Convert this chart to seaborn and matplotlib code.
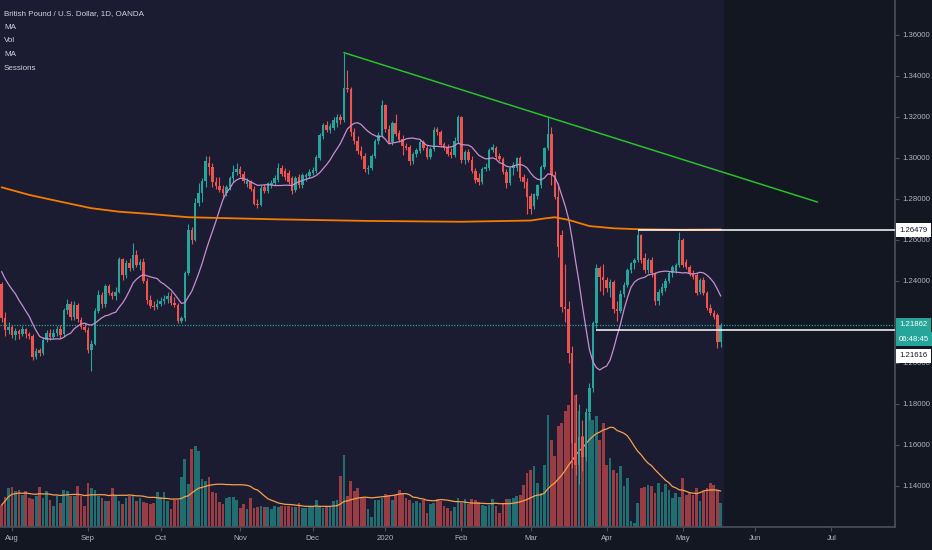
import numpy as np
import pandas as pd
import matplotlib
matplotlib.use("Agg")
import matplotlib.pyplot as plt
import seaborn as sns

# daily bars; the OANDA feed has no candle on Christmas and New Year's Day
first_day, last_day = "2019-07-29", "2020-05-18"
skipped_days = ["2019-12-25", "2020-01-01"]
future_end = "2020-07-31"

# OHLC in pips above 1.0000 (2220 -> 1.2220)
opens = [
    2385, 2220, 2160, 2175, 2135, 2155, 2140, 2165, 2140, 2130,
    2030, 2065, 2050, 2112, 2145, 2128, 2145, 2168, 2140, 2260,
    2290, 2225, 2285, 2210, 2178, 2160, 2063, 2095, 2255, 2330,
    2290, 2375, 2340, 2325, 2345, 2505, 2430, 2490, 2465, 2525,
    2480, 2495, 2400, 2305, 2280, 2275, 2290, 2300, 2310, 2325,
    2295, 2285, 2205, 2220, 2440, 2650, 2600, 2780, 2828, 2890,
    2975, 2955, 2885, 2865, 2850, 2828, 2858, 2900, 2933, 2945,
    2920, 2875, 2885, 2850, 2775, 2770, 2860, 2840, 2870, 2880,
    2895, 2950, 2935, 2925, 2900, 2844, 2905, 2868, 2905, 2910,
    2925, 2935, 3000, 3105, 3160, 3138, 3145, 3170, 3200, 3185,
    3340, 3335, 3128, 3085, 3035, 3010, 2945, 2950, 3010, 3085,
    3110, 3260, 3140, 3080, 3170, 3120, 3095, 3060, 3055, 2985,
    3020, 3035, 3080, 3050, 3005, 3045, 3140, 3125, 3068, 3055,
    3030, 3015, 3085, 3200, 2990, 3030, 2990, 2935, 2900, 2885,
    2945, 2950, 3040, 3050, 3010, 2995, 2930, 2880, 2950, 2950,
    3000, 2905, 2885, 2815, 2765, 2815, 2868, 2955, 3049, 3117,
    2917, 2812, 2624, 2273, 2265, 2047, 1610, 1500, 1640, 1540,
    1762, 1876, 2195, 2463, 2420, 2405, 2365, 2395, 2265, 2255,
    2335, 2380, 2454, 2486, 2502, 2624, 2510, 2454, 2502, 2437,
    2300, 2340, 2365, 2400, 2437, 2450, 2478, 2600, 2494, 2470,
    2440, 2429, 2345, 2405, 2340, 2267, 2242, 2234, 2104,
]
highs = [
    2395, 2250, 2200, 2185, 2170, 2165, 2180, 2170, 2150, 2140,
    2075, 2075, 2125, 2160, 2165, 2165, 2180, 2185, 2270, 2310,
    2300, 2300, 2295, 2225, 2195, 2175, 2110, 2270, 2355, 2345,
    2385, 2385, 2350, 2370, 2515, 2510, 2500, 2510, 2585, 2550,
    2505, 2510, 2415, 2330, 2300, 2310, 2320, 2330, 2345, 2345,
    2320, 2295, 2230, 2450, 2680, 2665, 2805, 2880, 2900, 3010,
    3012, 2975, 2905, 2905, 2870, 2870, 2910, 2965, 2975, 2960,
    2935, 2900, 2895, 2865, 2800, 2870, 2875, 2885, 2895, 2915,
    2975, 2965, 2950, 2940, 2910, 2910, 2920, 2925, 2925, 2945,
    2955, 3015, 3120, 3170, 3180, 3170, 3200, 3215, 3215, 3514,
    3430, 3345, 3145, 3105, 3060, 3025, 2965, 3020, 3095, 3125,
    3285, 3265, 3160, 3180, 3215, 3135, 3110, 3075, 3065, 3030,
    3050, 3090, 3090, 3065, 3055, 3150, 3152, 3135, 3080, 3070,
    3050, 3100, 3210, 3205, 3040, 3045, 3010, 2950, 2925, 2955,
    2975, 3050, 3070, 3060, 3025, 3005, 2945, 2960, 2980, 3005,
    3010, 2920, 2900, 2830, 2830, 2875, 2965, 3055, 3200, 3150,
    2935, 2880, 2650, 2485, 2300, 2085, 1850, 1800, 1720, 1780,
    1900, 2205, 2485, 2475, 2485, 2420, 2410, 2405, 2300, 2355,
    2395, 2465, 2495, 2510, 2648, 2630, 2535, 2510, 2515, 2445,
    2360, 2390, 2415, 2450, 2480, 2490, 2640, 2610, 2505, 2480,
    2455, 2440, 2415, 2420, 2350, 2290, 2260, 2245, 2195,
]
lows = [
    2200, 2130, 2140, 2120, 2110, 2115, 2130, 2120, 2115, 2015,
    2020, 2035, 2040, 2100, 2110, 2115, 2130, 2120, 2130, 2240,
    2210, 2210, 2200, 2165, 2150, 2050, 1960, 2090, 2245, 2270,
    2275, 2330, 2310, 2305, 2340, 2405, 2415, 2450, 2455, 2470,
    2455, 2390, 2290, 2270, 2260, 2265, 2280, 2290, 2295, 2285,
    2275, 2195, 2195, 2205, 2430, 2580, 2595, 2765, 2785, 2860,
    2915, 2860, 2850, 2835, 2810, 2815, 2845, 2885, 2915, 2905,
    2880, 2860, 2840, 2770, 2755, 2765, 2830, 2830, 2855, 2870,
    2885, 2910, 2895, 2875, 2825, 2835, 2855, 2855, 2890, 2900,
    2915, 2925, 2990, 3095, 3125, 3120, 3135, 3150, 3165, 3175,
    3320, 3105, 3070, 3020, 2995, 2930, 2920, 2940, 3000, 3070,
    3100, 3125, 3070, 3065, 3105, 3080, 3015, 3040, 2965, 2970,
    3005, 3025, 3040, 2995, 2995, 3035, 3110, 3055, 3040, 3010,
    3000, 3005, 3075, 2975, 2970, 2980, 2925, 2880, 2870, 2875,
    2935, 2940, 3030, 2995, 2985, 2920, 2855, 2870, 2915, 2935,
    2890, 2855, 2725, 2725, 2750, 2800, 2855, 2945, 3040, 2870,
    2800, 2515, 2250, 2200, 2000, 1490, 1455, 1410, 1475, 1520,
    1720, 1860, 2170, 2350, 2330, 2345, 2320, 2245, 2205, 2245,
    2320, 2370, 2440, 2460, 2495, 2490, 2440, 2440, 2420, 2285,
    2285, 2330, 2350, 2390, 2420, 2440, 2470, 2470, 2460, 2425,
    2410, 2330, 2335, 2330, 2260, 2235, 2215, 2075, 2080,
]
closes = [
    2220, 2160, 2175, 2135, 2155, 2140, 2165, 2140, 2130, 2030,
    2060, 2050, 2112, 2145, 2128, 2145, 2168, 2135, 2260, 2290,
    2225, 2285, 2215, 2178, 2160, 2063, 2095, 2255, 2330, 2290,
    2375, 2340, 2325, 2345, 2505, 2430, 2490, 2465, 2525, 2480,
    2495, 2400, 2305, 2280, 2275, 2290, 2300, 2310, 2325, 2295,
    2285, 2205, 2220, 2440, 2650, 2600, 2780, 2828, 2890, 2985,
    2955, 2885, 2865, 2845, 2828, 2858, 2900, 2933, 2945, 2920,
    2888, 2890, 2850, 2775, 2770, 2852, 2840, 2877, 2880, 2900,
    2950, 2920, 2905, 2885, 2838, 2900, 2868, 2915, 2917, 2933,
    2941, 3005, 3112, 3160, 3138, 3158, 3185, 3202, 3185, 3340,
    3335, 3128, 3085, 3035, 3010, 2945, 2950, 3010, 3085, 3110,
    3260, 3140, 3080, 3170, 3115, 3090, 3060, 3050, 2985, 3020,
    3040, 3080, 3050, 3005, 3045, 3135, 3125, 3065, 3050, 3020,
    3015, 3085, 3200, 2990, 3030, 2990, 2935, 2895, 2885, 2948,
    2955, 3040, 3055, 3005, 2995, 2930, 2880, 2950, 2965, 3000,
    2900, 2885, 2812, 2750, 2822, 2868, 2955, 3047, 3117, 2917,
    2812, 2566, 2273, 2265, 2047, 1610, 1500, 1640, 1540, 1762,
    1876, 2195, 2463, 2420, 2405, 2365, 2395, 2265, 2255, 2335,
    2380, 2454, 2486, 2502, 2624, 2502, 2454, 2502, 2437, 2300,
    2345, 2372, 2400, 2437, 2468, 2480, 2600, 2478, 2470, 2437,
    2421, 2340, 2405, 2340, 2267, 2242, 2226, 2104, 2186,
]
# closes of the bars just left of the view, only used to start the short MA
closes_before = [2575, 2510, 2425, 2420, 2505, 2475, 2475, 2440, 2475, 2455, 2380]

# volume, relative units
volume = [
    22, 30, 39, 40, 36, 37, 32, 36, 29, 28,
    31, 40, 29, 36, 27, 21, 31, 24, 37, 36,
    31, 31, 41, 31, 21, 44, 39, 37, 31, 29,
    26, 26, 39, 32, 26, 23, 29, 31, 31, 26,
    29, 25, 24, 23, 24, 35, 30, 35, 26, 18,
    27, 27, 50, 68, 43, 78, 81, 76, 48, 46,
    50, 35, 34, 25, 23, 29, 30, 30, 27, 19,
    23, 18, 29, 19, 20, 21, 20, 20, 18, 21,
    20, 21, 21, 21, 20, 20, 24, 19, 19, 20,
    21, 27, 21, 19, 21, 20, 26, 27, 51, 72,
    31, 46, 36, 39, 29, 29, 18, 10, 27, 27,
    29, 33, 32, 27, 32, 37, 34, 29, 27, 24,
    26, 24, 27, 14, 23, 24, 28, 26, 21, 19,
    16, 20, 29, 24, 28, 23, 28, 27, 25, 22,
    21, 22, 28, 21, 14, 24, 28, 28, 29, 31,
    32, 42, 54, 57, 61, 44, 34, 62, 112, 87,
    71, 101, 104, 116, 122, 112, 132, 116, 91, 114,
    114, 107, 111, 87, 104, 62, 69, 57, 54, 61,
    41, 49, 6, 4, 24, 39, 40, 42, 41, 34,
    44, 35, 43, 37, 29, 34, 30, 49, 32, 34,
    32, 39, 26, 36, 39, 44, 42, 37, 24,
]

# long moving average (orange)
slow_ma_dates = ["2019-07-29", "2019-08-08", "2019-08-21", "2019-09-03", "2019-09-13",
                 "2019-09-26", "2019-10-11", "2019-11-15", "2019-12-24", "2020-02-03",
                 "2020-03-02", "2020-03-06", "2020-03-11", "2020-03-17", "2020-03-25",
                 "2020-04-03", "2020-04-15", "2020-04-30", "2020-05-18"]
slow_ma_values = [1.2857, 1.2820, 1.2787, 1.2755, 1.2738, 1.2727, 1.2711, 1.2701, 1.2693,
                  1.2689, 1.2695, 1.2705, 1.2711, 1.2698, 1.2668, 1.2657, 1.2652, 1.2650,
                  1.2651]

fast_len, vol_ma_len = 12, 20

# drawings on the chart
trend_start = ("2019-12-13", 1.3514)
trend_end = ("2020-06-25", 1.2785)
resist_level, resist_from = 1.26479, "2020-04-14"
support_level, support_from = 1.21616, "2020-03-27"
last_price = 1.21862
countdown = "06:48:45"

legend_lines = ["British Pound / U.S. Dollar, 1D, OANDA", "MA", "Vol", "MA", "Sessions"]
price_ticks = [1.14, 1.16, 1.18, 1.20, 1.22, 1.24, 1.26, 1.28, 1.30, 1.32, 1.34, 1.36]

UP, DOWN = "#26a69a", "#ef5350"
DARK, NAVY = "#131722", "#1b1b32"
TXT, LINE = "#b2b5be", "#4a4e5a"
FS = 5.6

# ---- bar positions -------------------------------------------------------
days = pd.bdate_range(first_day, last_day)
days = days[~days.isin(pd.to_datetime(skipped_days))]
future = pd.bdate_range(pd.Timestamp(last_day) + pd.Timedelta(days=1), future_end)
all_days = days.append(future)
pos = {d: i for i, d in enumerate(all_days)}
n = len(days)
x = np.arange(n)

o = 1 + np.array(opens) / 1e4
h = 1 + np.array(highs) / 1e4
l = 1 + np.array(lows) / 1e4
c = 1 + np.array(closes) / 1e4
up = c >= o
cols = np.where(up, UP, DOWN)

c_all = pd.Series(np.r_[1 + np.array(closes_before) / 1e4, c])
fast_ma = c_all.rolling(fast_len).mean().to_numpy()[len(closes_before):]
vol_ma = pd.Series(volume).rolling(vol_ma_len, min_periods=1).mean().to_numpy()
slow_x = [pos[pd.Timestamp(d)] for d in slow_ma_dates]

month_pos = [i for i in range(1, len(all_days)) if all_days[i].month != all_days[i - 1].month]
month_lab = ["2020" if all_days[i].month == 1 else all_days[i].strftime("%b") for i in month_pos]

# ---- figure --------------------------------------------------------------
sns.set_theme(style="dark", rc={"axes.facecolor": DARK, "figure.facecolor": DARK})
plt.rcParams["font.family"] = ["Liberation Sans Narrow", "Liberation Sans", "DejaVu Sans"]

fig = plt.figure(figsize=(9.32, 5.5), dpi=100)
ax_vol = fig.add_axes([0, 23 / 550, 895 / 932, 527 / 550])
ax = ax_vol.twinx()

x_left, x_right = -0.46, 258.4
ax_vol.set_xlim(x_left, x_right)
ax_vol.axvspan(x_left, n - 0.2, color=NAVY, lw=0, zorder=0)

# volume pane
ax_vol.bar(x, volume, width=0.78, color=cols, alpha=0.6, lw=0, zorder=2)
sns.lineplot(x=x, y=vol_ma, ax=ax_vol, color="#f7a04b", lw=0.9, zorder=3)
ax_vol.set_ylim(0, 527)
ax_vol.set_yticks([])

# price pane
ax.set_ylim(1.12, 1.37707)
ax.grid(False)
ax_vol.grid(False)
ax.axhline(last_price, color=UP, lw=0.9, ls=(0, (1, 1.2)), zorder=2)
ax.vlines(x, l, h, colors=cols, lw=0.8, zorder=3)
ax.bar(x, np.maximum(np.abs(c - o), 0.00015), bottom=np.minimum(o, c), width=0.72,
       color=cols, lw=0, zorder=4)
sns.lineplot(x=x, y=fast_ma, ax=ax, color="#c58fd0", lw=0.9, zorder=5)
sns.lineplot(x=slow_x, y=slow_ma_values, ax=ax, color="#f57c00", lw=1.3, zorder=5)

t0, t1 = pos[pd.Timestamp(trend_start[0])], pos[pd.Timestamp(trend_end[0])]
ax.plot([t0, t1], [trend_start[1], trend_end[1]], color="#2bc02b", lw=1.1, zorder=6)
ax.hlines(resist_level, pos[pd.Timestamp(resist_from)], x_right, color="white", lw=1.1, zorder=6)
ax.hlines(support_level, pos[pd.Timestamp(support_from)], x_right, color="white", lw=1.1, zorder=6)

# axes styling
for a in (ax, ax_vol):
    for s in a.spines.values():
        s.set_visible(False)
ax.spines["right"].set_visible(True)
ax.spines["right"].set_color(LINE)
ax_vol.spines["bottom"].set_visible(True)
ax_vol.spines["bottom"].set_color(LINE)

# the 1.22 label sits fully under the last-price tag, so it is left blank
ax.set_yticks(price_ticks)
ax.set_yticklabels(["" if abs(v - last_price) < 0.005 else f"{v:.5f}" for v in price_ticks])
ax.tick_params(axis="y", colors=LINE, labelcolor=TXT, labelsize=FS, length=3, width=0.8,
               pad=2, direction="out", right=True)
ax_vol.set_xticks(month_pos)
ax_vol.set_xticklabels(month_lab)
ax_vol.tick_params(axis="x", colors=LINE, labelcolor=TXT, labelsize=FS, length=3, width=0.8,
                   pad=3, direction="out", bottom=True)
ax.set_xlabel("")
ax.set_ylabel("")
ax_vol.set_xlabel("")
ax_vol.set_ylabel("")


def price_tag(text, price, fc, tc, dy=0.0):
    ax.annotate(text, xy=(1, price), xycoords=ax.get_yaxis_transform(),
                xytext=(3, dy), textcoords="offset points", ha="left", va="center",
                fontsize=FS, color=tc, annotation_clip=False, zorder=20,
                bbox=dict(boxstyle="square,pad=0.45", fc=fc, ec="none"))


price_tag(f"{resist_level:.5f}", resist_level, "white", "#131722")
price_tag(f"{support_level:.5f}", support_level, "white", "#131722", dy=-18.5)
price_tag(f"{last_price:.5f}", last_price, UP, "white")
price_tag(countdown, last_price, UP, "white", dy=-10.5)

for k, line in enumerate(legend_lines):
    fig.text(4 / 932, 1 - (13.3 + 13.8 * k) / 550, line, color="#d1d4dc",
             fontsize=FS + 0.2, va="center", ha="left")

fig.savefig("out.png", dpi=100, facecolor=DARK)
